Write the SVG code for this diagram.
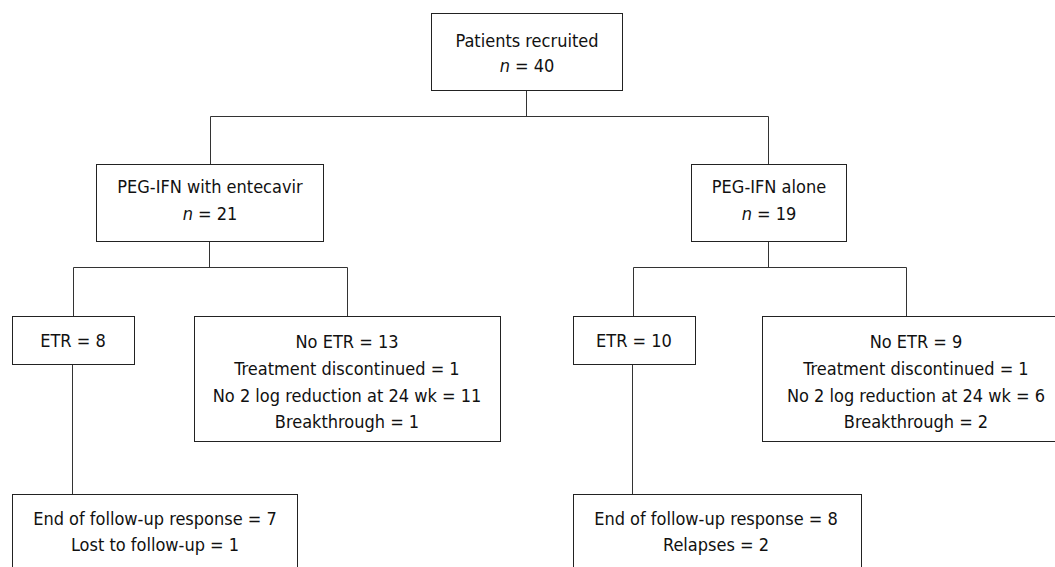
<svg xmlns="http://www.w3.org/2000/svg" width="1055" height="567" viewBox="0 0 1055 567">
<style>
.box{fill:#fff;stroke:#222;stroke-width:1}
.ln{fill:none;stroke:#333;stroke-width:1}
text{font-family:"DejaVu Sans Condensed","DejaVu Sans",sans-serif;font-stretch:condensed;font-size:18px;fill:#111;text-anchor:middle}
.it{font-style:italic}
</style>
<rect width="1055" height="567" fill="#fff"/>
<g id="connectors">
<path class="ln" d="M526.5 90V116.5M210.5 116.5H768.5M210.5 116.5V164M768.5 116.5V164"/>
<path class="ln" d="M209.5 241V267.5M73.5 267.5H347.5M73.5 267.5V316M347.5 267.5V316"/>
<path class="ln" d="M768.5 241V267.5M633.5 267.5H906.5M633.5 267.5V316M906.5 267.5V316"/>
<path class="ln" d="M72.5 364V494"/>
<path class="ln" d="M632.5 364V494"/>
</g>
<g id="n_patients">
<rect class="box" x="431.5" y="13.5" width="191" height="77"/>
<text x="527" y="47">Patients recruited</text>
<text x="527" y="72"><tspan class="it">n</tspan> = 40</text>
</g>
<g id="n_combo">
<rect class="box" x="96.5" y="164.5" width="227" height="77"/>
<text x="210" y="193">PEG-IFN with entecavir</text>
<text x="210" y="220"><tspan class="it">n</tspan> = 21</text>
</g>
<g id="n_alone">
<rect class="box" x="691.5" y="164.5" width="155" height="77"/>
<text x="769" y="193">PEG-IFN alone</text>
<text x="769" y="220"><tspan class="it">n</tspan> = 19</text>
</g>
<g id="n_etr8">
<rect class="box" x="12.5" y="316.5" width="122" height="48"/>
<text x="73" y="347">ETR = 8</text>
</g>
<g id="n_noetr13">
<rect class="box" x="194.5" y="316.5" width="306" height="125"/>
<text x="347" y="348">No ETR = 13</text>
<text x="347" y="375">Treatment discontinued = 1</text>
<text x="347" y="401.5">No 2 log reduction at 24 wk = 11</text>
<text x="347" y="428">Breakthrough = 1</text>
</g>
<g id="n_etr10">
<rect class="box" x="573.5" y="316.5" width="122" height="48"/>
<text x="634" y="347">ETR = 10</text>
</g>
<g id="n_noetr9">
<rect class="box" x="762.5" y="316.5" width="310" height="125"/>
<text x="916" y="348">No ETR = 9</text>
<text x="916" y="375">Treatment discontinued = 1</text>
<text x="916" y="401.5">No 2 log reduction at 24 wk = 6</text>
<text x="916" y="428">Breakthrough = 2</text>
</g>
<g id="n_fu1">
<rect class="box" x="12.5" y="494.5" width="285" height="90"/>
<text x="155" y="525">End of follow-up response = 7</text>
<text x="155" y="551">Lost to follow-up = 1</text>
</g>
<g id="n_fu2">
<rect class="box" x="573.5" y="494.5" width="288" height="90"/>
<text x="716" y="525">End of follow-up response = 8</text>
<text x="716" y="551">Relapses = 2</text>
</g>
</svg>
